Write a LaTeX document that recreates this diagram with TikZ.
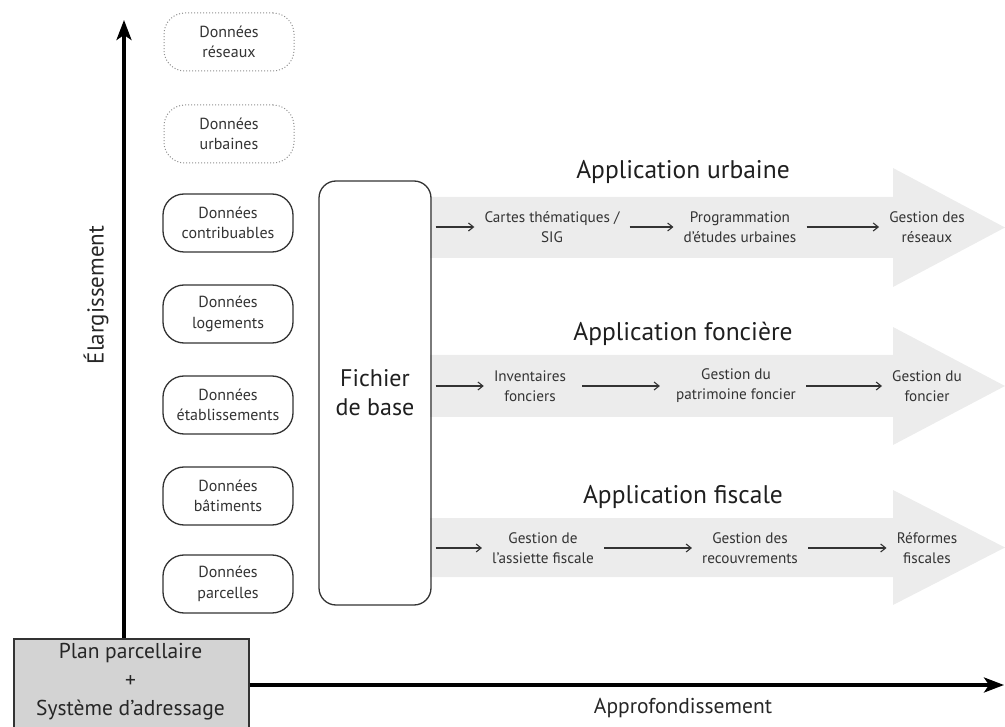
\documentclass[tikz,border=0pt]{standalone}
\usepackage{fontspec}
\setmainfont{PT Sans}
\usetikzlibrary{arrows.meta}
\definecolor{bandgray}{HTML}{ECECEC}
\definecolor{boxgray}{HTML}{D3D3D3}
\definecolor{ink}{HTML}{333333}
\definecolor{dotgray}{HTML}{8F8F8F}
\tikzset{
  datapill/.style={draw=ink, line width=1.3pt, rounded corners=21pt,
    minimum width=130pt, minimum height=58pt, align=center, text=ink,
    font=\fontsize{16}{20.5}\selectfont},
  futurepill/.style={datapill, draw=dotgray, line width=1pt, dotted},
  stage/.style={align=center, text=ink, inner xsep=10pt,
    font=\fontsize{15.2}{20}\selectfont},
  apptitle/.style={text=black!88, font=\fontsize{25.5}{28}\selectfont},
  flow/.style={draw=ink, line width=1.1pt, -{Straight Barb[length=5pt,width=8pt]}},
  axis/.style={line width=3.4pt, -{Stealth[length=20pt,width=15pt,inset=5pt]}},
  band/.style={fill=bandgray, draw=none},
  axislabel/.style={text=black!85, font=\fontsize{21.5}{24}\selectfont},
}
\begin{document}
\begin{tikzpicture}[x=1pt,y=-1pt]
\useasboundingbox (0,0) rectangle (1005,727);

% broad application arrows
\fill[band] (430,197) -- (893,197) -- (893,168) -- (1005,227.5) -- (893,287) -- (893,258) -- (430,258) -- cycle;
\fill[band] (430,355) -- (893,355) -- (893,327) -- (1005,386) -- (893,445) -- (893,417) -- (430,417) -- cycle;
\fill[band] (430,518) -- (893,518) -- (893,490) -- (1005,547.5) -- (893,605) -- (893,577) -- (430,577) -- cycle;

% base layer and axes
\node[draw=ink, line width=1.6pt, fill=boxgray, minimum width=235pt, minimum height=96pt,
      anchor=north west, inner sep=0pt] (plan) at (13,638) {};
\node[align=center, text=black!85, font=\fontsize{21.5}{28.5}\selectfont] (plantext) at (130.5,682)
  {Plan parcellaire\\+\\Système d’adressage};
\coordinate (ytip) at (124,20);
\coordinate (xtip) at (1004,685);
\draw[axis] (plan.north west -| ytip) -- (ytip);
\draw[axis] (plan.east |- xtip) -- (xtip);
\node[axislabel, font=\fontsize{23}{26}\selectfont, rotate=90] (ylab) at (96,295) {Élargissement};
\node[axislabel] (xlab) at (683,708) {Approfondissement};

% data sources
\node[futurepill] (reseaux) at (229,42) {Données\\réseaux};
\node[futurepill] (urbaines) at (229,134) {Données\\urbaines};
\node[datapill] (contrib) at (228,223) {Données\\contribuables};
\node[datapill] (logements) at (228,314) {Données\\logements};
\node[datapill] (etabl) at (228,405) {Données\\établissements};
\node[datapill] (batiments) at (228,496) {Données\\bâtiments};
\node[datapill] (parcelles) at (228,584) {Données\\parcelles};

% central file
\node[draw=ink, line width=1.3pt, rounded corners=17pt, minimum width=112pt, minimum height=424pt,
      align=center, font=\fontsize{24}{29}\selectfont, text=black!88] (fichier) at (375,393)
  {Fichier\\de base};

% application titles
\node[apptitle] (tu) at (683,172) {Application urbaine};
\node[apptitle] (tf) at (683,334) {Application foncière};
\node[apptitle] (tfi) at (683,497) {Application fiscale};

% urban chain
\node[stage] (u1) at (552,227) {Cartes thématiques /\\SIG};
\node[stage] (u2) at (740,227) {Programmation\\d’études urbaines};
\node[stage] (u3) at (927,227) {Gestion des\\réseaux};
\draw[flow] (fichier.east |- u1) ++(4,0) -- (u1.west);
\draw[flow] (u1.east) -- (u2.west);
\draw[flow] (u2.east) -- (u3.west);

% land chain
\node[stage] (f1) at (530,386) {Inventaires\\fonciers};
\node[stage] (f2) at (736,386) {Gestion du\\patrimoine foncier};
\node[stage] (f3) at (927,386) {Gestion du\\foncier};
\draw[flow] (fichier.east |- f1) ++(4,0) -- (f1.west);
\draw[flow] (f1.east) ++(6,0) -- ([xshift=-6pt]f2.west);
\draw[flow] (f2.east) -- (f3.west);

% tax chain
\node[stage] (s1) at (543,548) {Gestion de\\l’assiette fiscale};
\node[stage] (s2) at (750,548) {Gestion des\\recouvrements};
\node[stage] (s3) at (927,548) {Réformes\\fiscales};
\draw[flow] (fichier.east |- s1) ++(4,0) -- (s1.west);
\draw[flow] (s1.east) -- (s2.west);
\draw[flow] (s2.east) -- (s3.west);
\end{tikzpicture}
\end{document}
